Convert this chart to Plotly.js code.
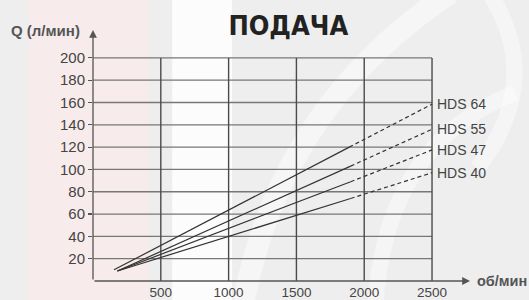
<!DOCTYPE html>
<html>
<head>
<meta charset="utf-8">
<script src="https://cdn.plot.ly/plotly-3.0.1.min.js"></script>
<style>html,body{margin:0;padding:0;background:#eeeeee;}#chart{width:529px;height:300px;}</style>
</head>
<body>
<div id="chart"></div>
<script>
// ---- data ----
const seriesNames = ['HDS 64', 'HDS 55', 'HDS 47', 'HDS 40'];
const rpmStart = [155, 180, 180, 180];
const qStart = [10, 9, 9, 9];
const rpmSolidEnd = [1890, 1900, 1900, 1900];
const qSolidEnd = [120, 103, 89, 74];
const rpmEnd = [2500, 2500, 2500, 2500];
const qEnd = [158.5, 136, 117.5, 97];
const xTicks = [500, 1000, 1500, 2000, 2500];
const yTicks = [20, 40, 60, 80, 100, 120, 140, 160, 180, 200];
const xMax = 2500, yMax = 200;

const lineColor = '#333333';
const traces = [];
seriesNames.forEach((n, i) => {
  traces.push({x: [rpmStart[i], rpmSolidEnd[i]], y: [qStart[i], qSolidEnd[i]], mode: 'lines',
    line: {color: lineColor, width: 1.2}, hoverinfo: 'skip', showlegend: false});
  traces.push({x: [rpmSolidEnd[i], rpmEnd[i]], y: [qSolidEnd[i], qEnd[i]], mode: 'lines',
    line: {color: lineColor, width: 1.2, dash: '4px,3px'}, hoverinfo: 'skip', showlegend: false});
});

const shapes = [
  // background decoration bands and soft swirls
  {type: 'rect', xref: 'paper', yref: 'paper', x0: -0.172, x1: 0.146, y0: -0.1, y1: 1.2, fillcolor: '#f8ebeb', line: {width: 0}, layer: 'below'},
  {type: 'rect', xref: 'paper', yref: 'paper', x0: 0.21, x1: 0.369, y0: -0.1, y1: 1.2, fillcolor: '#fcfcfc', line: {width: 0}, layer: 'below'},
  {type: 'path', xref: 'paper', yref: 'paper', path: 'M 0.40 -0.08 Q 0.50 0.70 0.95 1.15', line: {color: 'rgba(255,255,255,0.45)', width: 22}, layer: 'below'},
  {type: 'path', xref: 'paper', yref: 'paper', path: 'M 0.75 -0.08 Q 0.78 0.55 1.12 0.75', line: {color: 'rgba(255,255,255,0.4)', width: 16}, layer: 'below'},
  {type: 'path', xref: 'paper', yref: 'paper', path: 'M 1.05 1.15 Q 1.20 0.80 1.02 0.45', line: {color: 'rgba(255,255,255,0.4)', width: 16}, layer: 'below'}
];
yTicks.forEach(v => shapes.push({type: 'line', xref: 'x', yref: 'y', x0: 0, x1: xMax, y0: v, y1: v,
  line: {color: '#777777', width: 1.3}, layer: 'below'}));
xTicks.forEach(v => shapes.push({type: 'line', xref: 'x', yref: 'y', x0: v, x1: v, y0: 0, y1: yMax,
  line: {color: '#4a4a4a', width: 1.4}, layer: 'below'}));

const layout = {
  width: 529, height: 300,
  margin: {l: 93, r: 59, t: 30, b: 19},
  paper_bgcolor: '#eeeeee',
  plot_bgcolor: 'rgba(0,0,0,0)',
  title: {text: 'ПОДАЧА', x: 0.545, xanchor: 'center', y: 0.915, yanchor: 'middle',
    font: {family: 'Liberation Sans Narrow, DejaVu Sans Condensed, Arial Narrow, sans-serif', size: 27, weight: 'bold', color: '#222222'}},
  xaxis: {range: [0, 2780], tickvals: xTicks, ticktext: xTicks.map(String), showgrid: false, zeroline: false,
    showline: false, ticks: '', ticklabelstandoff: 1,
    tickfont: {family: 'Liberation Sans, Arial, sans-serif', size: 13.5, color: '#444444'}},
  yaxis: {range: [0, 225], tickvals: yTicks, ticktext: yTicks.map(String), showgrid: false, zeroline: false,
    showline: false, ticks: 'outside', ticklen: 4, tickcolor: '#555555', tickwidth: 1.2,
    tickfont: {family: 'Liberation Sans, Arial, sans-serif', size: 15, color: '#444444'}},
  shapes: shapes,
  annotations: [
    // axis arrows
    {x: 2780, y: 0, ax: 0, ay: 0, xref: 'x', yref: 'y', axref: 'x', ayref: 'y', showarrow: true, text: '',
      arrowhead: 2, arrowsize: 1.2, arrowwidth: 1.3, arrowcolor: '#555555'},
    {x: 0, y: 225, ax: 0, ay: 0, xref: 'x', yref: 'y', axref: 'x', ayref: 'y', showarrow: true, text: '',
      arrowhead: 2, arrowsize: 1.2, arrowwidth: 1.3, arrowcolor: '#555555'},
    {text: 'Q (л/мин)', xref: 'paper', yref: 'paper', x: -0.222, y: 1.0, xanchor: 'left', yanchor: 'middle', showarrow: false,
      font: {family: 'Liberation Sans, Arial, sans-serif', size: 15, weight: 'bold', color: '#555555'}},
    {text: 'об/мин', xref: 'paper', yref: 'paper', x: 1.014, y: 0, xanchor: 'left', yanchor: 'middle', showarrow: false,
      font: {family: 'Liberation Sans, Arial, sans-serif', size: 14.5, weight: 'bold', color: '#555555'}}
  ]
};
seriesNames.forEach((n, i) => layout.annotations.push({
  text: n, x: rpmEnd[i], y: qEnd[i], xref: 'x', yref: 'y', xanchor: 'left', yanchor: 'middle', xshift: 3,
  showarrow: false, font: {family: 'Liberation Sans, Arial, sans-serif', size: 14, color: '#444444'}
}));

Plotly.newPlot('chart', traces, layout, {displayModeBar: false, staticPlot: true});
</script>
</body>
</html>
